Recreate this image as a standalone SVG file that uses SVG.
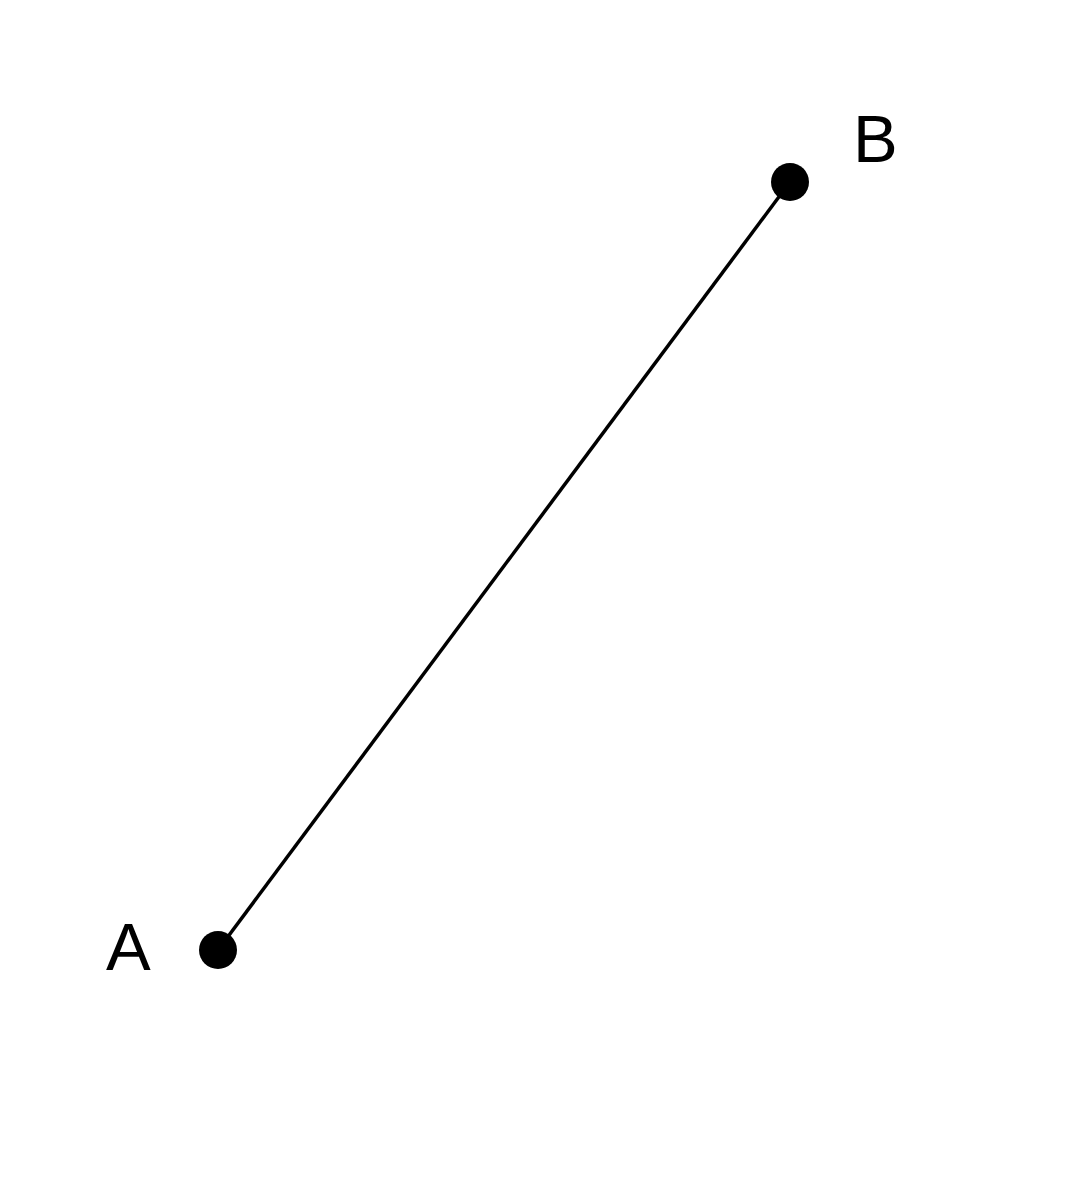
<svg xmlns="http://www.w3.org/2000/svg" width="1073" height="1200" viewBox="0 0 1073 1200">
<style>
.lbl{font-family:"Liberation Sans",Arial,sans-serif;font-size:67px;fill:#000}
.pt{fill:#000}
</style>
<rect width="1073" height="1200" fill="#fff"/>
<g id="connectors">
<line x1="218" y1="950" x2="790" y2="182" stroke="#000" stroke-width="3.5"/>
</g>
<g id="A">
<circle class="pt" cx="218" cy="950" r="19"/>
<text class="lbl" x="106" y="970">A</text>
</g>
<g id="B">
<circle class="pt" cx="790" cy="182" r="19"/>
<text class="lbl" x="853" y="162">B</text>
</g>
</svg>
